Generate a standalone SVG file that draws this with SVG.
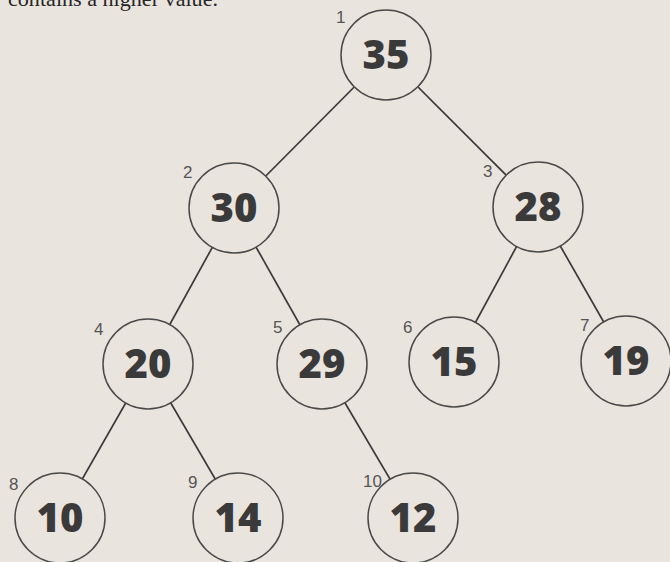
<svg xmlns="http://www.w3.org/2000/svg" width="670" height="562" viewBox="0 0 670 562">
<style>
.bg{fill:#eae4df}
.edge{stroke:#3a3a3a;stroke-width:1.7;fill:none}
.node circle{fill:#eae4df;stroke:#4a4a4a;stroke-width:1.5}
.val{font-family:"Open Sans","DejaVu Sans",sans-serif;font-weight:800;font-size:40px;fill:#3a3a3a;text-anchor:middle}
.idx{font-family:"Liberation Sans","DejaVu Sans",sans-serif;font-size:17px;fill:#555}
.cap{font-family:"Liberation Serif","DejaVu Serif",serif;font-size:22px;fill:#262626}
</style>
<rect class="bg" x="0" y="0" width="670" height="562"/>
<text class="cap" x="8" y="6" textLength="210" lengthAdjust="spacingAndGlyphs">contains a higher value.</text>
<g id="connectors">
<line class="edge" x1="386" y1="55" x2="234" y2="208"/>
<line class="edge" x1="386" y1="55" x2="538" y2="207"/>
<line class="edge" x1="234" y1="208" x2="148" y2="364"/>
<line class="edge" x1="234" y1="208" x2="322" y2="364"/>
<line class="edge" x1="538" y1="207" x2="454" y2="362"/>
<line class="edge" x1="538" y1="207" x2="626" y2="361"/>
<line class="edge" x1="148" y1="364" x2="60" y2="518"/>
<line class="edge" x1="148" y1="364" x2="238" y2="518"/>
<line class="edge" x1="322" y1="364" x2="413" y2="518"/>
</g>
<g id="n1" class="node"><circle cx="386" cy="55" r="45"/><text class="val" x="386" y="69">35</text><text class="idx" x="336" y="23">1</text></g>
<g id="n2" class="node"><circle cx="234" cy="208" r="45"/><text class="val" x="234" y="222">30</text><text class="idx" x="183" y="178">2</text></g>
<g id="n3" class="node"><circle cx="538" cy="207" r="45"/><text class="val" x="538" y="221">28</text><text class="idx" x="483" y="177">3</text></g>
<g id="n4" class="node"><circle cx="148" cy="364" r="45"/><text class="val" x="148" y="378">20</text><text class="idx" x="94" y="335">4</text></g>
<g id="n5" class="node"><circle cx="322" cy="364" r="45"/><text class="val" x="322" y="378">29</text><text class="idx" x="273" y="333">5</text></g>
<g id="n6" class="node"><circle cx="454" cy="362" r="45"/><text class="val" x="454" y="376">15</text><text class="idx" x="403" y="333">6</text></g>
<g id="n7" class="node"><circle cx="626" cy="361" r="45"/><text class="val" x="626" y="375">19</text><text class="idx" x="580" y="331">7</text></g>
<g id="n8" class="node"><circle cx="60" cy="518" r="45"/><text class="val" x="60" y="532">10</text><text class="idx" x="9" y="490">8</text></g>
<g id="n9" class="node"><circle cx="238" cy="518" r="45"/><text class="val" x="238" y="532">14</text><text class="idx" x="188" y="488">9</text></g>
<g id="n10" class="node"><circle cx="413" cy="518" r="45"/><text class="val" x="413" y="532">12</text><text class="idx" x="363" y="487">10</text></g>
</svg>
